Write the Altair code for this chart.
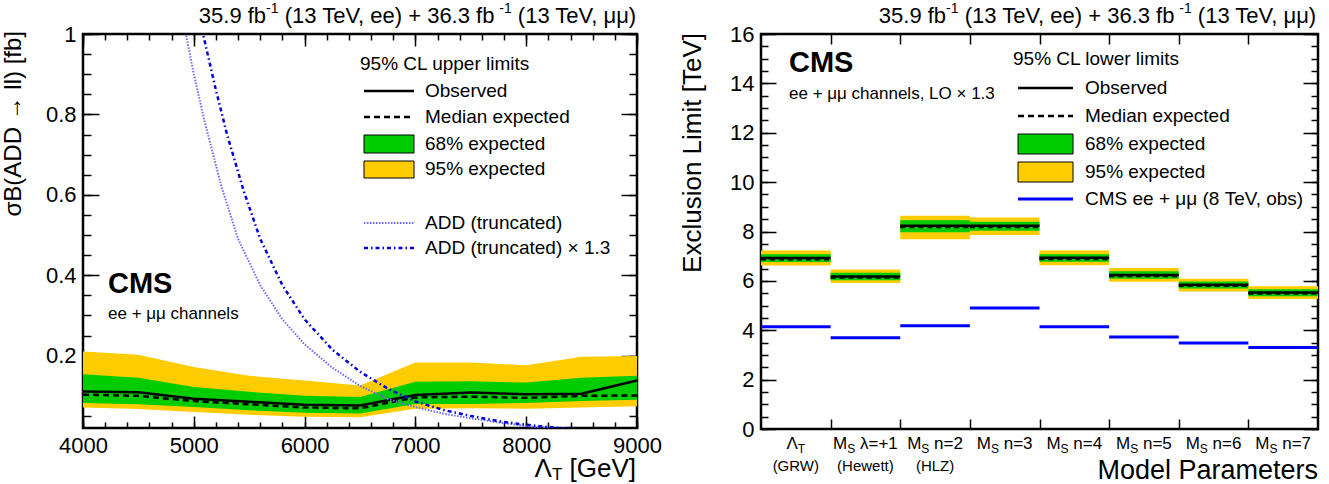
import altair as alt
import pandas as pd

F = "Liberation Sans"
YEL = "#ffcc00"
GRN = "#00cc00"

# ---------------- left panel data ----------------
lam = [4000, 4500, 5000, 5500, 6000, 6500, 7000, 7500, 8000, 8500, 9000]
band95_hi = [0.210, 0.202, 0.172, 0.150, 0.138, 0.126, 0.183, 0.183, 0.176, 0.197, 0.199]
band68_hi = [0.154, 0.145, 0.122, 0.110, 0.100, 0.097, 0.135, 0.136, 0.133, 0.145, 0.150]
observed = [0.111, 0.109, 0.093, 0.085, 0.078, 0.076, 0.102, 0.108, 0.104, 0.105, 0.138]
expected = [0.103, 0.100, 0.087, 0.079, 0.071, 0.069, 0.096, 0.098, 0.095, 0.100, 0.101]
band68_lo = [0.082, 0.079, 0.072, 0.064, 0.058, 0.056, 0.080, 0.080, 0.082, 0.087, 0.090]
band95_lo = [0.071, 0.067, 0.060, 0.053, 0.048, 0.047, 0.068, 0.069, 0.068, 0.071, 0.074]

add_lam = [4900, 5000, 5100, 5250, 5400, 5600, 5800, 6000, 6250, 6500, 6750, 7000, 7250, 7500, 7750, 8000, 8250]
add_xsec = [1.04, 0.90, 0.78, 0.62, 0.49, 0.375, 0.29, 0.228, 0.17, 0.125, 0.092, 0.072, 0.056, 0.044, 0.034, 0.025, 0.018]
add13_lam = [5050, 5100, 5200, 5300, 5450, 5600, 5800, 6000, 6250, 6500, 6750, 7000, 7250, 7500, 7750, 8000, 8250, 8500]
add13_xsec = [1.04, 0.98, 0.86, 0.75, 0.61, 0.49, 0.375, 0.29, 0.215, 0.16, 0.118, 0.086, 0.065, 0.050, 0.037, 0.028, 0.021, 0.016]

left_x_major = [4000, 5000, 6000, 7000, 8000, 9000]
left_x_minor = list(range(4000, 9001, 200))
left_y_major = [0.2, 0.4, 0.6, 0.8, 1.0]
left_y_minor = [round(0.05 * i, 2) for i in range(1, 21)]

# ---------------- right panel data ----------------
model_main = ["Λ", "M", "M", "M", "M", "M", "M", "M"]
model_sub = ["T", "S", "S", "S", "S", "S", "S", "S"]
model_rest = ["", " λ=+1", " n=2", " n=3", " n=4", " n=5", " n=6", " n=7"]
model_note = ["(GRW)", "(Hewett)", "(HLZ)", "", "", "", "", ""]
r_obs = [6.93, 6.18, 8.23, 8.23, 6.94, 6.24, 5.84, 5.53]
r_exp = [6.88, 6.14, 8.18, 8.18, 6.89, 6.20, 5.80, 5.49]
r68_lo = [6.76, 6.03, 7.97, 8.03, 6.77, 6.09, 5.69, 5.38]
r68_hi = [7.08, 6.33, 8.46, 8.40, 7.08, 6.39, 5.97, 5.66]
r95_lo = [6.62, 5.91, 7.69, 7.86, 6.63, 5.96, 5.57, 5.27]
r95_hi = [7.23, 6.46, 8.64, 8.57, 7.23, 6.52, 6.09, 5.78]
r_cms8 = [4.14, 3.70, 4.18, 4.90, 4.14, 3.73, 3.48, 3.30]

right_y_major = list(range(0, 17, 2))
right_y_minor = [0.5 * i for i in range(0, 33)]
right_x_ticks = [1, 2, 3, 4, 5, 6, 7]

header_parts = [("35.9 fb", False), ("-1", True), (" (13 TeV, ee) + 36.3 fb", False),
                ("-1", True), (" (13 TeV, μμ)", False)]

# ---------------- helpers ----------------
AW = {" ": 278, ".": 278, ",": 278, "(": 333, ")": 333, "[": 278, "]": 278, "+": 584, "=": 584,
      "-": 333, "×": 584, "μ": 576, "λ": 500, "Λ": 667, "T": 611, "V": 667, "e": 556, "f": 278,
      "b": 556, "M": 833, "S": 667, "n": 556, "G": 778, "R": 722, "W": 944, "H": 722, "w": 722,
      "t": 278, "L": 556, "Z": 611}


def tw(s, fs):
    return sum(AW.get(c, 556) for c in s) * fs / 1000.0


def lead_gap(s, fs):
    """width of leading spaces (rendered text drops them) and the stripped text"""
    st = s.lstrip(" ")
    return (len(s) - len(st)) * 278 * fs / 1000.0, st


def one():
    return alt.Data(values=[{}])


def txt(text, x, y, size, align="left", baseline="middle", bold=False, angle=None, color="black"):
    kw = dict(text=text, fontSize=size, font=F, align=align, baseline=baseline, color=color,
              fontWeight="bold" if bold else "normal")
    if angle is not None:
        kw["angle"] = angle
    return alt.Chart(one()).mark_text(**kw).encode(x=alt.value(x), y=alt.value(y))


def hline(x1, x2, y, color, width, dash=None):
    kw = dict(color=color, strokeWidth=width)
    if dash:
        kw["strokeDash"] = dash
    return alt.Chart(one()).mark_rule(**kw).encode(x=alt.value(x1), x2=alt.value(x2), y=alt.value(y))


def box(x1, x2, y1, y2, fill):
    return alt.Chart(one()).mark_rect(fill=fill, stroke="black", strokeWidth=1).encode(
        x=alt.value(x1), x2=alt.value(x2), y=alt.value(y1), y2=alt.value(y2))


def ax(orient, values, size, labels=False, fmt=None):
    kw = dict(orient=orient, values=values, tickSize=size, offset=-size, domain=False, grid=False,
              labels=labels, ticks=True, tickColor="black", tickWidth=1.5, title=None)
    if labels:
        kw.update(labelFont=F, labelFontSize=22, labelColor="black", labelPadding=7,
                  labelFlush=False, labelOverlap=False, format=fmt)
    return alt.Axis(**kw)


def header(end_x, y):
    sizes = [(s, 14 if sup else 22, -7 if sup else 0) for s, sup in header_parts]
    total = sum(tw(s, f) for s, f, _ in sizes)
    x = end_x - total
    out = []
    for s, f, dy in sizes:
        gap, st = lead_gap(s, f)
        out.append(txt(st, x + gap, y + dy, f))
        x += tw(s, f)
    return out


# ---------------- left panel ----------------
LW, LH = 554, 394
band = pd.DataFrame(dict(lam=lam, y95lo=band95_lo, y95hi=band95_hi, y68lo=band68_lo,
                         y68hi=band68_hi, obs=observed, exp=expected))
add_df = pd.DataFrame(dict(lam=add_lam, xs=add_xsec))
add13_df = pd.DataFrame(dict(lam=add13_lam, xs=add13_xsec))
xs = alt.Scale(domain=[4000, 9000], nice=False, zero=False)
ys = alt.Scale(domain=[0.02, 1.0], nice=False, zero=False)

L = []
L.append(alt.Chart(band).mark_area(color=YEL, opacity=1).encode(
    x=alt.X("lam:Q", scale=xs, axis=ax("bottom", left_x_major, 12, True, "d")),
    y=alt.Y("y95lo:Q", scale=ys, axis=ax("left", left_y_major, 16, True, "~g")),
    y2="y95hi:Q"))
L.append(alt.Chart(band).mark_area(color=GRN, opacity=1).encode(
    x=alt.X("lam:Q", scale=xs, axis=None), y=alt.Y("y68lo:Q", scale=ys, axis=None), y2="y68hi:Q"))
L.append(alt.Chart(band).mark_line(color="black", strokeWidth=2.5, strokeDash=[6, 4]).encode(
    x=alt.X("lam:Q", scale=xs, axis=None), y=alt.Y("exp:Q", scale=ys, axis=None)))
L.append(alt.Chart(band).mark_line(color="black", strokeWidth=2.5).encode(
    x=alt.X("lam:Q", scale=xs, axis=None), y=alt.Y("obs:Q", scale=ys, axis=None)))
L.append(alt.Chart(add_df).mark_line(color="#6a6aff", strokeWidth=2, strokeDash=[1.5, 1.5], clip=True).encode(
    x=alt.X("lam:Q", scale=xs, axis=None), y=alt.Y("xs:Q", scale=ys, axis=None)))
L.append(alt.Chart(add13_df).mark_line(color="#0000dd", strokeWidth=2.5, strokeDash=[4, 3, 1.5, 3], clip=True).encode(
    x=alt.X("lam:Q", scale=xs, axis=None), y=alt.Y("xs:Q", scale=ys, axis=None)))
# extra tick axes
L.append(alt.Chart(band).mark_point(opacity=0).encode(
    x=alt.X("lam:Q", scale=xs, axis=ax("bottom", left_x_minor, 6)),
    y=alt.Y("obs:Q", scale=ys, axis=ax("left", left_y_minor, 8))))
L.append(alt.Chart(band).mark_point(opacity=0).encode(
    x=alt.X("lam:Q", scale=xs, axis=ax("top", left_x_major, 12)),
    y=alt.Y("obs:Q", scale=ys, axis=ax("right", left_y_major, 16))))
L.append(alt.Chart(band).mark_point(opacity=0).encode(
    x=alt.X("lam:Q", scale=xs, axis=ax("top", left_x_minor, 6)),
    y=alt.Y("obs:Q", scale=ys, axis=ax("right", left_y_minor, 8))))
# texts
L += header(LW + 4, -18)
L.append(txt("σB(ADD → ll) [fb]", -69, -3, 24, align="right", angle=270))
t_end = LW - 1
L.append(txt("[GeV]", t_end, 435, 26, align="right"))
L.append(txt("T", t_end - tw(" [GeV]", 26), 441, 17, align="right"))
L.append(txt("Λ", t_end - tw(" [GeV]", 26) - tw("T", 17), 435, 26, align="right"))
L.append(txt("CMS", 25, 250, 29, bold=True))
L.append(txt("ee + μμ channels", 25, 280, 17))
# legend
L.append(txt("95% CL upper limits", 277, 30, 19))
L.append(hline(281, 331, 57, "black", 2.5))
L.append(txt("Observed", 342, 57, 19))
L.append(hline(281, 331, 83, "black", 2.5, [6, 4]))
L.append(txt("Median expected", 342, 83, 19))
L.append(box(281, 331, 101, 119, GRN))
L.append(txt("68% expected", 342, 110, 19))
L.append(box(281, 331, 127, 144, YEL))
L.append(txt("95% expected", 342, 135, 19))
L.append(hline(281, 331, 189, "#6a6aff", 2, [1.5, 1.5]))
L.append(txt("ADD (truncated)", 342, 189, 19))
L.append(hline(281, 331, 214, "#0000dd", 2.5, [4, 3, 1.5, 3]))
L.append(txt("ADD (truncated) × 1.3", 342, 214, 19))

left = alt.layer(*L).resolve_axis(x="independent", y="independent").properties(width=LW, height=LH)

# ---------------- right panel ----------------
RW, RH = 557, 395
n = len(r_obs)
rdf = pd.DataFrame(dict(x0=list(range(n)), x1=[i + 1 for i in range(n)], obs=r_obs, exp=r_exp,
                        lo68=r68_lo, hi68=r68_hi, lo95=r95_lo, hi95=r95_hi, cms8=r_cms8))
xr = alt.Scale(domain=[0, 8], nice=False, zero=False)
yr = alt.Scale(domain=[0, 16], nice=False, zero=False)

px = RW / 8.0
rows = []
for i, (m, s, r, nt) in enumerate(zip(model_main, model_sub, model_rest, model_note)):
    wm, ws, wr = tw(m, 17), tw(s, 12), tw(r, 17)
    start = (i + 0.5) * px - (wm + ws + wr) / 2
    gap, rst = lead_gap(r, 17)
    rows.append(dict(xm=start / px, xs=(start + wm) / px, xr=(start + wm + ws + gap) / px,
                     xc=i + 0.5, m=m, s=s, r=rst, nt=nt))
lab = pd.DataFrame(rows)

R = []
R.append(alt.Chart(rdf).mark_rect(color=YEL).encode(
    x=alt.X("x0:Q", scale=xr, axis=ax("bottom", right_x_ticks, 10)), x2="x1:Q",
    y=alt.Y("lo95:Q", scale=yr, axis=ax("left", right_y_major, 15, True, "d")), y2="hi95:Q"))
R.append(alt.Chart(rdf).mark_rect(color=GRN).encode(
    x=alt.X("x0:Q", scale=xr, axis=None), x2="x1:Q",
    y=alt.Y("lo68:Q", scale=yr, axis=None), y2="hi68:Q"))
R.append(alt.Chart(rdf).mark_rule(color="black", strokeWidth=2.5).encode(
    x=alt.X("x0:Q", scale=xr, axis=None), x2="x1:Q", y=alt.Y("obs:Q", scale=yr, axis=None)))
R.append(alt.Chart(rdf).mark_rule(color="black", strokeWidth=2.5, strokeDash=[5, 4]).encode(
    x=alt.X("x0:Q", scale=xr, axis=None), x2="x1:Q", y=alt.Y("exp:Q", scale=yr, axis=None)))
R.append(alt.Chart(rdf).mark_rule(color="#0000ff", strokeWidth=3).encode(
    x=alt.X("x0:Q", scale=xr, axis=None), x2="x1:Q", y=alt.Y("cms8:Q", scale=yr, axis=None)))
R.append(alt.Chart(rdf).mark_point(opacity=0).encode(
    x=alt.X("x0:Q", scale=xr, axis=ax("top", right_x_ticks, 10)),
    y=alt.Y("obs:Q", scale=yr, axis=ax("left", right_y_minor, 7))))
R.append(alt.Chart(rdf).mark_point(opacity=0).encode(
    x=alt.X("x0:Q", scale=xr, axis=None),
    y=alt.Y("obs:Q", scale=yr, axis=ax("right", right_y_major, 15))))
R.append(alt.Chart(rdf).mark_point(opacity=0).encode(
    x=alt.X("x0:Q", scale=xr, axis=None),
    y=alt.Y("obs:Q", scale=yr, axis=ax("right", right_y_minor, 7))))
# category labels
R.append(alt.Chart(lab).mark_text(align="left", baseline="middle", fontSize=17, font=F, color="black").encode(
    x=alt.X("xm:Q", scale=xr, axis=None), y=alt.value(410), text="m:N"))
R.append(alt.Chart(lab).mark_text(align="left", baseline="middle", fontSize=12, font=F, color="black").encode(
    x=alt.X("xs:Q", scale=xr, axis=None), y=alt.value(415), text="s:N"))
R.append(alt.Chart(lab).mark_text(align="left", baseline="middle", fontSize=17, font=F, color="black").encode(
    x=alt.X("xr:Q", scale=xr, axis=None), y=alt.value(410), text="r:N"))
R.append(alt.Chart(lab).mark_text(align="center", baseline="middle", fontSize=15, font=F, color="black").encode(
    x=alt.X("xc:Q", scale=xr, axis=None), y=alt.value(432), text="nt:N"))
# texts
R += header(RW + 3, -18)
R.append(txt("Exclusion Limit [TeV]", -68, -1, 26, align="right", angle=270))
R.append(txt("Model Parameters", RW, 437, 27, align="right"))
R.append(txt("CMS", 28, 29, 29, bold=True))
R.append(txt("ee + μμ channels, LO × 1.3", 28, 60, 17))
# legend
R.append(txt("95% CL lower limits", 252, 25, 19))
R.append(hline(257, 312, 54, "black", 2.5))
R.append(txt("Observed", 324, 54, 19))
R.append(hline(257, 312, 82, "black", 2.5, [6, 4]))
R.append(txt("Median expected", 324, 82, 19))
R.append(box(257, 312, 100, 120, GRN))
R.append(txt("68% expected", 324, 110, 19))
R.append(box(257, 312, 128, 148, YEL))
R.append(txt("95% expected", 324, 138, 19))
R.append(hline(257, 312, 165, "#0000ff", 3))
R.append(txt("CMS ee + μμ (8 TeV, obs)", 324, 165, 19))

right = alt.layer(*R).resolve_axis(x="independent", y="independent").properties(width=RW, height=RH)

chart = alt.hconcat(left, right, spacing=124, bounds="flush").properties(
    padding={"left": 0, "top": 0, "right": 5, "bottom": 0}
).configure_view(stroke="black", strokeWidth=2.5)

chart.save("out.html", embed_options={"renderer": "svg", "actions": False})
